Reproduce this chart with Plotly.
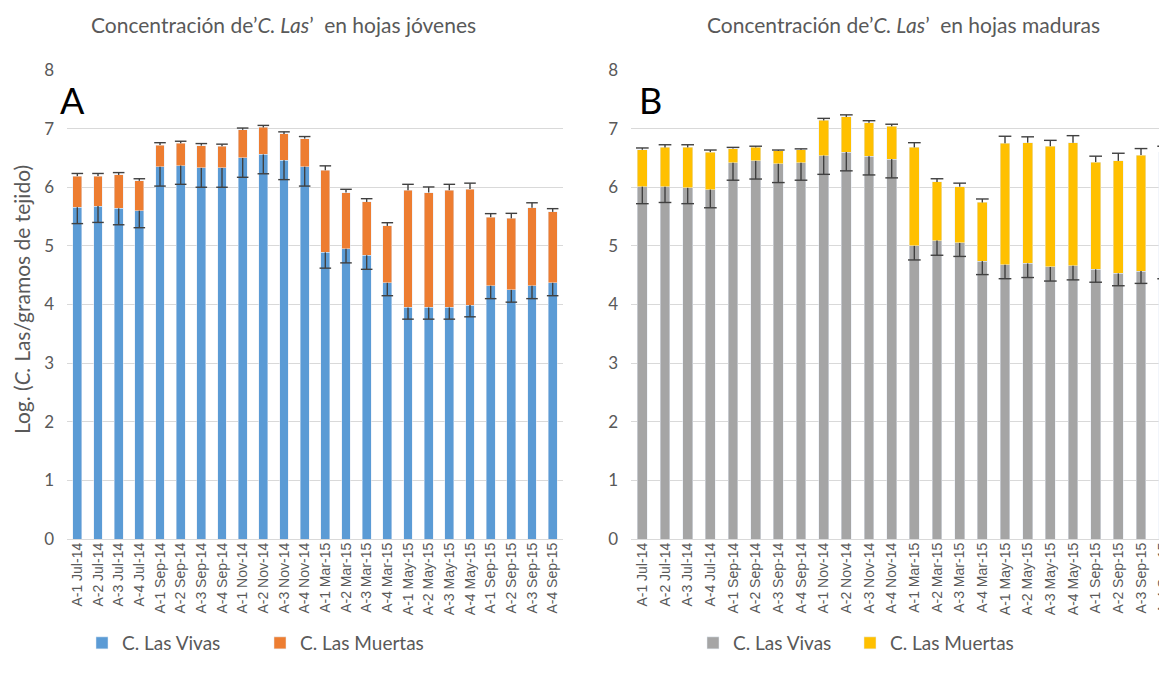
import plotly.graph_objects as go

labels = ["A-1 Jul-14", "A-2 Jul-14", "A-3 Jul-14", "A-4 Jul-14",
          "A-1 Sep-14", "A-2 Sep-14", "A-3 Sep-14", "A-4 Sep-14",
          "A-1 Nov-14", "A-2 Nov-14", "A-3 Nov-14", "A-4 Nov-14",
          "A-1 Mar-15", "A-2 Mar-15", "A-3 Mar-15", "A-4 Mar-15",
          "A-1 May-15", "A-2 May-15", "A-3 May-15", "A-4 May-15",
          "A-1 Sep-15", "A-2 Sep-15", "A-3 Sep-15", "A-4 Sep-15"]

# Panel A: hojas jóvenes
vivas_A = [5.66, 5.68, 5.64, 5.60, 6.35, 6.37, 6.33, 6.33, 6.50, 6.56, 6.46, 6.35,
           4.89, 4.95, 4.84, 4.37, 3.95, 3.95, 3.95, 3.99, 4.32, 4.25, 4.32, 4.37]
muertas_A = [0.53, 0.51, 0.57, 0.51, 0.37, 0.38, 0.38, 0.37, 0.48, 0.46, 0.45, 0.48,
             1.40, 0.96, 0.91, 0.97, 2.00, 1.96, 2.00, 1.98, 1.17, 1.22, 1.33, 1.21]
err_vivas_A = [0.28, 0.28, 0.28, 0.29, 0.33, 0.32, 0.33, 0.33, 0.33, 0.33, 0.33, 0.33,
               0.27, 0.24, 0.24, 0.22, 0.20, 0.20, 0.20, 0.20, 0.22, 0.21, 0.22, 0.22]
err_muertas_A = [0.045, 0.045, 0.04, 0.035, 0.04, 0.035, 0.035, 0.035, 0.03, 0.035, 0.035, 0.035,
                 0.075, 0.055, 0.055, 0.055, 0.10, 0.095, 0.10, 0.10, 0.06, 0.085, 0.085, 0.055]

# Panel B: hojas maduras
vivas_B = [6.01, 6.01, 5.99, 5.96, 6.42, 6.45, 6.40, 6.42, 6.54, 6.60, 6.53, 6.48,
           5.00, 5.09, 5.05, 4.74, 4.68, 4.70, 4.64, 4.66, 4.60, 4.53, 4.57, 4.68]
muertas_B = [0.63, 0.67, 0.69, 0.64, 0.24, 0.23, 0.22, 0.22, 0.60, 0.60, 0.57, 0.56,
             1.68, 1.00, 0.96, 1.00, 2.07, 2.06, 2.06, 2.10, 1.83, 1.92, 1.98, 1.92]
err_vivas_B = [0.29, 0.27, 0.27, 0.31, 0.30, 0.31, 0.32, 0.30, 0.32, 0.32, 0.32, 0.32,
               0.24, 0.25, 0.23, 0.23, 0.24, 0.24, 0.24, 0.24, 0.22, 0.21, 0.21, 0.24]
err_muertas_B = [0.03, 0.045, 0.045, 0.035, 0.02, 0.02, 0.015, 0.015, 0.035, 0.035, 0.035, 0.035,
                 0.08, 0.055, 0.06, 0.06, 0.12, 0.10, 0.10, 0.12, 0.10, 0.13, 0.11, 0.10]

C_BLUE = "#5B9BD5"
C_ORANGE = "#ED7D31"
C_GREY = "#A5A5A5"
C_YELLOW = "#FFC000"
C_ERR = "#404040"
C_TXT = "#595959"
C_GRID = "#D9D9D9"
FONT = "Lato"

OFF = 8                      # page body margin
W, H = 1167, 681 - OFF
T = 70 - OFF                 # top of plot area (figure px)
B = 539 - OFF                # bottom of plot area (figure px)
PH = B - T

xs = list(range(len(labels)))
CAP = 0.28


def fx(px):
    return (px - OFF) / W


def fy(py):
    return (B - (py - OFF)) / PH


def err_lines(base, err, up):
    """Build error-bar line coordinates (data units) from values."""
    ex, ey = [], []
    for i, (b, e) in enumerate(zip(base, err)):
        end = b + e if up else b - e
        ex += [i, i, None, i - CAP, i + CAP, None]
        ey += [b, end, None, end, end, None]
    return ex, ey


fig = go.Figure()


def add_panel(vivas, muertas, ev, em, c1, c2, xa, ya, leg1, leg2, width):
    fig.add_trace(go.Bar(x=xs, y=vivas, name="C. Las Vivas", marker_color=c1,
                         width=width, xaxis=xa, yaxis=ya, legend=leg1))
    fig.add_trace(go.Bar(x=xs, y=muertas, name="C. Las Muertas", marker_color=c2,
                         width=width, xaxis=xa, yaxis=ya, legend=leg2))
    tot = [a + b for a, b in zip(vivas, muertas)]
    ex, ey = err_lines(vivas, ev, False)
    fig.add_trace(go.Scatter(x=ex, y=ey, mode="lines", line=dict(color=C_ERR, width=1.4),
                             showlegend=False, hoverinfo="skip", xaxis=xa, yaxis=ya))
    ex, ey = err_lines(tot, em, True)
    fig.add_trace(go.Scatter(x=ex, y=ey, mode="lines", line=dict(color=C_ERR, width=1.4),
                             showlegend=False, hoverinfo="skip", xaxis=xa, yaxis=ya))


add_panel(vivas_A, muertas_A, err_vivas_A, err_muertas_A, C_BLUE, C_ORANGE,
          "x", "y", "legend", "legend2", 0.42)
add_panel(vivas_B, muertas_B, err_vivas_B, err_muertas_B, C_GREY, C_YELLOW,
          "x2", "y2", "legend3", "legend4", 0.44)

xcommon = dict(tickmode="array", tickvals=xs, ticktext=labels, tickangle=-90,
               tickfont=dict(family="Liberation Sans", size=14, color=C_TXT),
               showgrid=False, zeroline=False, showline=False, ticks="", fixedrange=True)
ycommon = dict(range=[0, 8], dtick=1, tick0=0, showgrid=True, gridcolor=C_GRID, gridwidth=1,
               zeroline=True, zerolinecolor=C_GRID, zerolinewidth=1, showline=False, ticks="",
               tickfont=dict(family=FONT, size=17, color=C_TXT), ticklabelstandoff=12)

legfont = dict(family=FONT, size=19, color=C_TXT)


def leg(px):
    return dict(orientation="h", x=fx(px), xanchor="left", y=fy(643), yanchor="middle",
                font=legfont, bgcolor="rgba(0,0,0,0)")


fig.update_layout(
    width=W, height=H,
    margin=dict(l=0, r=0, t=T, b=H - B, pad=0),
    paper_bgcolor="white", plot_bgcolor="white",
    barmode="stack",
    xaxis=dict(domain=[fx(67), fx(563)], range=[-0.5, 23.5], anchor="y", **xcommon),
    yaxis=dict(domain=[0, 1], anchor="x", **ycommon),
    xaxis2=dict(domain=[fx(631), 1.0], range=[-0.5, 23.5], anchor="y2", **xcommon),
    yaxis2=dict(domain=[0, 1], anchor="x2", **ycommon),
    legend=leg(82), legend2=leg(260), legend3=leg(693), legend4=leg(850),
    showlegend=True,
)

ann = [
    dict(text="Concentración de’<i>C. Las</i>’  en hojas jóvenes", px=283, py=25,
         font=dict(family=FONT, size=21, color=C_TXT)),
    dict(text="Concentración de’<i>C. Las</i>’  en hojas maduras", px=903, py=25,
         font=dict(family=FONT, size=21, color=C_TXT)),
    dict(text="A", px=72, py=100, font=dict(family=FONT, size=36, color="black")),
    dict(text="B", px=650, py=100, font=dict(family=FONT, size=36, color="black")),
    dict(text="Log. (<i>C.</i> Las/gramos de tejido)", px=21, py=300, textangle=-90,
         font=dict(family=FONT, size=21, color=C_TXT)),
]
for a in ann:
    px = a.pop("px")
    py = a.pop("py")
    fig.add_annotation(xref="paper", yref="paper", x=fx(px), y=fy(py),
                       xanchor="center", yanchor="middle", showarrow=False, **a)

fig.write_html("out.html")
